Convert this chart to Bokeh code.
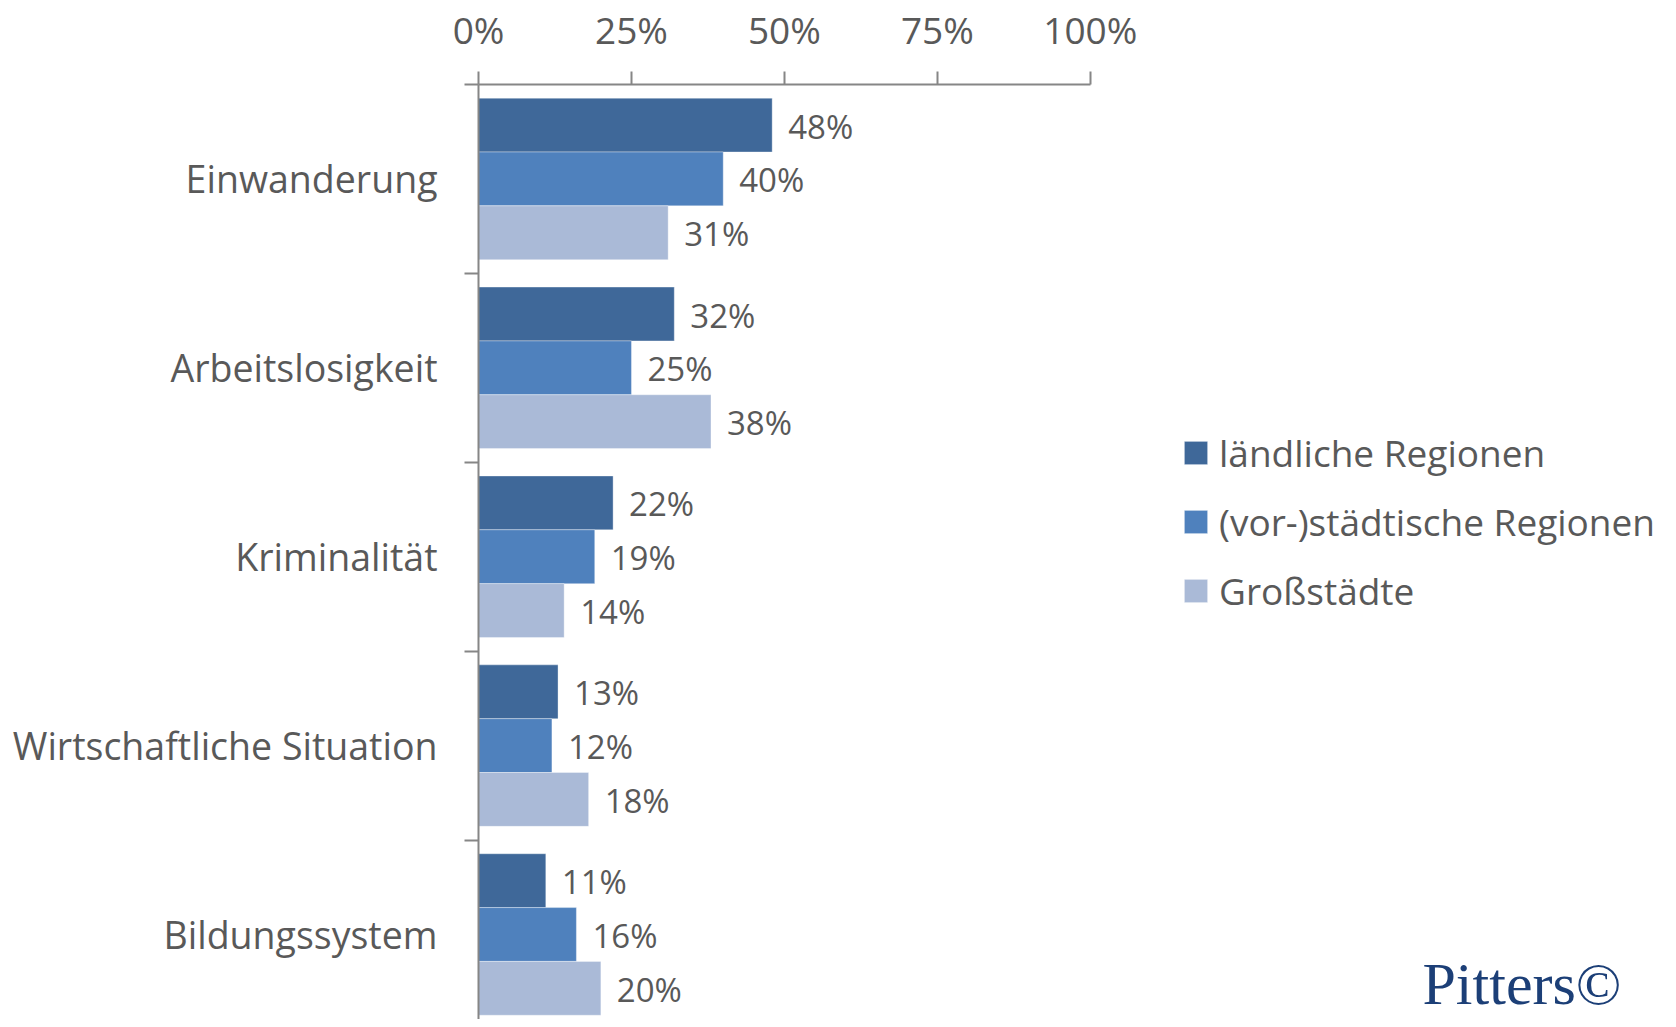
from bokeh.plotting import figure
from bokeh.models import (Range1d, FixedTicker, PrintfTickFormatter, ColumnDataSource,
                          LabelSet, Legend, LegendItem, Label)
from bokeh.core.properties import value
from bokeh.embed import file_html
from bokeh.resources import INLINE

categories = ["Einwanderung", "Arbeitslosigkeit", "Kriminalität",
              "Wirtschaftliche Situation", "Bildungssystem"]
series_names = ["ländliche Regionen", "(vor-)städtische Regionen", "Großstädte"]
laendlich = [48, 32, 22, 13, 11]
vorstaedtisch = [40, 25, 19, 12, 16]
grossstaedte = [31, 38, 14, 18, 20]
x_ticks = [0, 25, 50, 75, 100]

colors = ["#3F6899", "#4F81BD", "#AABAD7"]
TEXT = "#595959"
AXIS = "#868686"
FONT = "Open Sans"

bar_h = 0.285
offsets = [-bar_h, 0.0, bar_h]

p = figure(width=1668, height=1019,
           min_border_left=478, min_border_right=0, min_border_top=83, min_border_bottom=0,
           x_range=Range1d(0, 194.5), y_range=Range1d(4.95, 0),
           x_axis_location="above", output_backend="svg", toolbar_location=None)
p.outline_line_color = None
p.grid.visible = False
p.background_fill_color = "white"
p.border_fill_color = "white"

renderers = []
for k, (vals, col) in enumerate(zip([laendlich, vorstaedtisch, grossstaedte], colors)):
    ys = [i + 0.5 + offsets[k] for i in range(len(categories))]
    src = ColumnDataSource(dict(y=ys, v=vals, lab=[f"{v}%" for v in vals]))
    r = p.hbar(y="y", right="v", left=0, height=bar_h, source=src,
               fill_color=col, line_color="white", line_alpha=0.35, line_width=1)
    renderers.append(r)
    p.add_layout(LabelSet(x="v", y="y", text="lab", source=src, x_offset=16, y_offset=-1,
                          text_baseline="middle", text_align="left",
                          text_font=value(FONT), text_font_size="33px", text_color=TEXT))

# top axis (only spans 0..100 %)
xa = p.xaxis[0]
xa.bounds = (0, 100)
xa.ticker = FixedTicker(ticks=x_ticks)
xa.formatter = PrintfTickFormatter(format="%d%%")
xa.major_label_text_font = FONT
xa.major_label_text_font_size = "37px"
xa.major_label_text_color = TEXT
xa.major_tick_out = 13
xa.major_tick_in = 0
xa.major_tick_line_color = AXIS
xa.major_tick_line_width = 2
xa.minor_tick_line_color = None
xa.axis_line_color = AXIS
xa.axis_line_width = 2
xa.major_label_standoff = 17

# left category axis
ya = p.yaxis[0]
centers = [i + 0.5 for i in range(len(categories))]
ya.ticker = FixedTicker(ticks=centers, minor_ticks=list(range(len(categories) + 1)))
ya.major_label_overrides = {c: name for c, name in zip(centers, categories)}
ya.major_tick_line_color = None
ya.major_tick_out = 0
ya.major_tick_in = 0
ya.minor_tick_out = 14
ya.minor_tick_in = 0
ya.minor_tick_line_color = AXIS
ya.minor_tick_line_width = 2
ya.axis_line_color = AXIS
ya.axis_line_width = 2
ya.major_label_text_font = FONT
ya.major_label_text_font_size = "37.5px"
ya.major_label_text_color = TEXT
ya.major_label_standoff = 27

legend = Legend(items=[LegendItem(label=n, renderers=[r]) for n, r in zip(series_names, renderers)],
                location=(703, 403), glyph_width=29, glyph_height=29, label_standoff=9,
                label_text_font=FONT, label_text_font_size="37px", label_text_color=TEXT,
                spacing=18, padding=0, margin=0, border_line_color=None,
                background_fill_alpha=0)
p.add_layout(legend, "center")

p.add_layout(Label(x=944, y=3, x_units="screen", y_units="screen", text="Pitters©",
                   text_baseline="bottom", text_font="Liberation Serif", text_font_size="60px",
                   text_color="#1C3F77"))

open("out.html", "w").write(file_html(p, INLINE))
